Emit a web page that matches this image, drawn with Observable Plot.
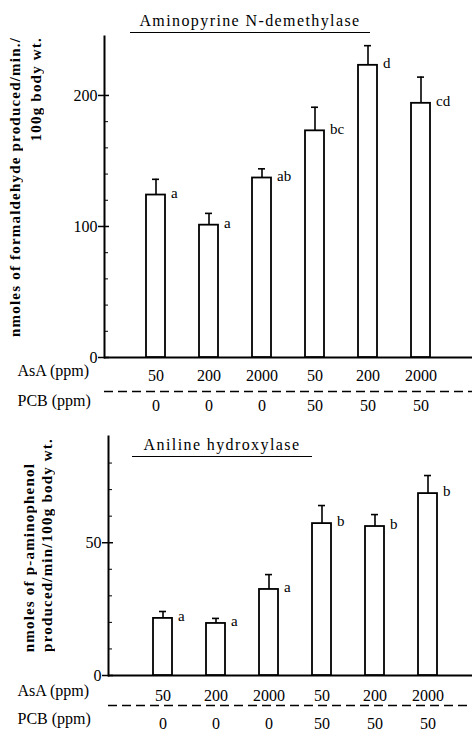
<!DOCTYPE html>
<html>
<head>
<meta charset="utf-8">
<script src="https://cdn.jsdelivr.net/npm/d3@7"></script>
<script src="https://cdn.jsdelivr.net/npm/@observablehq/plot@0.6"></script>
<style>
  body { margin: 0; background: #fff; }
  #wrap { position: relative; width: 472px; height: 732px; font-family: "Liberation Serif", "DejaVu Serif", serif; color: #000; }
  .panel { position: absolute; left: 0; }
  .title { position: absolute; text-align: center; border-bottom: 1.6px solid #000; font-size: 16px; letter-spacing: 1.4px; line-height: 18px; padding-bottom: 2px; }
  .ytitle { position: absolute; writing-mode: vertical-rl; transform: rotate(180deg); font-size: 15px; letter-spacing: 1.2px; line-height: 18px; white-space: nowrap; font-weight: bold; }
</style>
</head>
<body>
<div id="wrap">
  <div id="p1" class="panel" style="top:0"></div>
  <div id="p2" class="panel" style="top:420px"></div>
  <div class="title" style="left:130px; top:12px; width:240px;">Aminopyrine N-demethylase</div>
  <div class="title" style="left:132px; top:436px; width:180px;">Aniline hydroxylase</div>
  <div class="ytitle" style="left:6px; top:37px;">nmoles of formaldehyde produced/min./</div>
  <div class="ytitle" style="left:27px; top:37px;">100g body wt.</div>
  <div class="ytitle" style="left:20px; bottom:80px;">nmoles of p-aminophenol</div>
  <div class="ytitle" style="left:38px; bottom:80px;">produced/min/100g body wt.</div>
</div>
<script>
// ---- data ----
const groups = ["g1", "g2", "g3", "g4", "g5", "g6"];
const asaPpm = ["50", "200", "2000", "50", "200", "2000"];
const pcbPpm = ["0", "0", "0", "50", "50", "50"];

const aminoMean = [124, 101, 137, 173, 223, 194];
const aminoErr = [12, 9, 7, 18, 15, 20];
const aminoLetters = ["a", "a", "ab", "bc", "d", "cd"];
const aminoTicks = [0, 100, 200];
const aminoMinor = [20, 40, 60, 80, 120, 140, 160, 180];

const anilMean = [21.5, 19.6, 32.4, 57.2, 56.1, 68.5];
const anilErr = [2.6, 1.9, 5.6, 6.8, 4.5, 6.8];
const anilLetters = ["a", "a", "a", "b", "b", "b"];
const anilTicks = [0, 50];
const anilMinor = [10, 20, 30, 40, 60, 70, 80];

const serif = "Liberation Serif";

function panel({mean, err, letters, ticks, minor, yMax, height, mTop, mBottom, mLeft, xOpts, rowDy}) {
  const rows = groups.map((g, i) => ({g, asa: asaPpm[i], pcb: pcbPpm[i], mean: mean[i], top: mean[i] + err[i], letter: letters[i]}));
  return Plot.plot({
    width: 472,
    height,
    marginTop: mTop,
    marginBottom: mBottom,
    marginLeft: mLeft,
    marginRight: 0,
    style: {fontFamily: serif, fontSize: "16px", color: "#000", background: "transparent", overflow: "visible"},
    x: {domain: groups, axis: null, ...xOpts},
    y: {domain: [0, yMax], axis: null},
    marks: [
      Plot.axisY(ticks, {tickSize: 0, tickPadding: 7, label: null, fontSize: 16, fontFamily: serif, letterSpacing: 1}),
      Plot.axisY(ticks, {tickSize: 11, insetLeft: 5, label: null, fill: "none", strokeWidth: 1.5}),
      Plot.axisY(minor, {tickSize: 4, insetLeft: 4, label: null, fill: "none", strokeWidth: 1}),
      Plot.frame({anchor: "left", strokeWidth: 2}),
      Plot.ruleY([0], {strokeWidth: 2}),
      Plot.ruleX(rows, {x: "g", y1: "mean", y2: "top", strokeWidth: 1.6}),
      Plot.tickY(rows, {x: "g", y: "top", insetLeft: 6, insetRight: 6, strokeWidth: 1.6}),
      Plot.barY(rows, {x: "g", y: "mean", fill: "white", stroke: "black", strokeWidth: 1.8}),
      Plot.text(rows, {x: "g", y: "mean", text: "letter", textAnchor: "start", dx: 15, dy: -2, fontSize: 15, fontFamily: serif}),
      Plot.text(rows, {x: "g", y: 0, text: "asa", dy: rowDy[0], fontSize: 16, fontFamily: serif, letterSpacing: 1.2}),
      Plot.ruleY([0], {dy: rowDy[1], strokeDasharray: "9,5", strokeWidth: 1.3}),
      Plot.text(rows, {x: "g", y: 0, text: "pcb", dy: rowDy[2], fontSize: 16, fontFamily: serif, letterSpacing: 1.2}),
      Plot.text(["AsA (ppm)"], {text: d => d, frameAnchor: "bottom-left", textAnchor: "start", dx: -mLeft + 17, dy: rowDy[0], fontSize: 16, fontFamily: serif, letterSpacing: 1.3}),
      Plot.text(["PCB (ppm)"], {text: d => d, frameAnchor: "bottom-left", textAnchor: "start", dx: -mLeft + 17, dy: rowDy[2], fontSize: 16, fontFamily: serif, letterSpacing: 1.3})
    ]
  });
}

document.getElementById("p1").append(panel({
  mean: aminoMean, err: aminoErr, letters: aminoLetters, ticks: aminoTicks, minor: aminoMinor,
  yMax: 245, height: 420, mTop: 36, mBottom: 63, mLeft: 104,
  xOpts: {paddingInner: 0.643, paddingOuter: 0.78, align: 0.5},
  rowDy: [18, 34, 48]
}));

document.getElementById("p2").append(panel({
  mean: anilMean, err: anilErr, letters: anilLetters, ticks: anilTicks, minor: anilMinor,
  yMax: 90, height: 312, mTop: 16, mBottom: 57, mLeft: 108,
  xOpts: {paddingInner: 0.65, paddingOuter: 0.746, align: 0.557},
  rowDy: [20, 30, 48]
}));
</script>
</body>
</html>
